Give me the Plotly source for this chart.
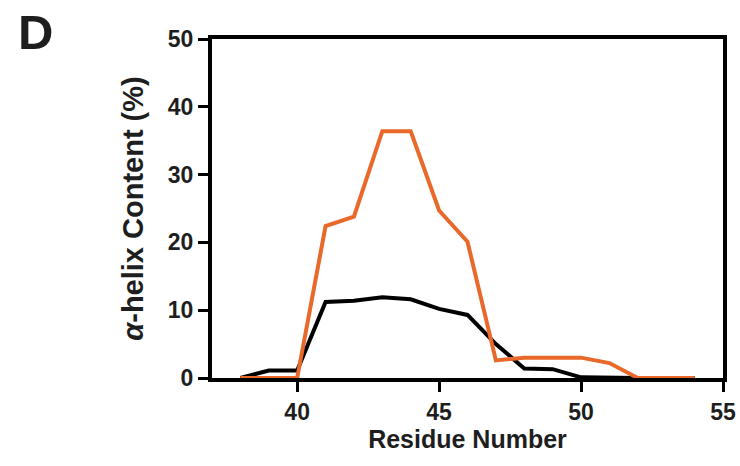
import plotly.graph_objects as go

residues = [38, 39, 40, 41, 42, 43, 44, 45, 46, 47, 48, 49, 50, 51, 52, 53, 54]
black_values = [0.0, 1.1, 1.1, 11.2, 11.4, 11.9, 11.6, 10.2, 9.3, 5.0, 1.4, 1.3, 0.1, 0.0, 0.0, 0.0, 0.0]
orange_values = [0.0, 0.0, 0.0, 22.4, 23.8, 36.4, 36.4, 24.7, 20.1, 2.6, 3.0, 3.0, 3.0, 2.2, 0.0, 0.0, 0.0]

x_ticks = [40, 45, 50, 55]
y_ticks = [0, 10, 20, 30, 40, 50]

FONT = "Liberation Sans"
TXT = "#1e1e1e"

fig = go.Figure()
fig.add_trace(go.Scatter(x=residues, y=black_values, mode="lines",
                         line=dict(color="#000000", width=4), showlegend=False))
fig.add_trace(go.Scatter(x=residues, y=orange_values, mode="lines",
                         line=dict(color="#E8692A", width=4), showlegend=False))

axis_common = dict(showgrid=False, zeroline=False, showline=True, linecolor="black",
                   linewidth=4, mirror=True, ticks="outside", ticklen=10, tickwidth=3,
                   tickcolor="black", automargin=False,
                   tickfont=dict(family=FONT, size=23, color=TXT, weight="bold"))

fig.update_xaxes(range=[37, 55], tickvals=x_ticks, ticktext=[str(v) for v in x_ticks],
                 title=dict(text="Residue Number", standoff=8,
                            font=dict(family=FONT, size=25, color=TXT, weight="bold")),
                 **axis_common)
fig.update_yaxes(range=[0, 50], tickvals=y_ticks, ticktext=[str(v) for v in y_ticks],
                 title=dict(text="<i>α</i>-helix Content (%)", standoff=17,
                            font=dict(family=FONT, size=29, color=TXT, weight="bold")),
                 **axis_common)

fig.add_annotation(text="D", xref="paper", yref="paper", x=-0.384, y=1.105,
                   xanchor="left", yanchor="top", showarrow=False,
                   font=dict(family=FONT, size=49, color=TXT, weight="bold"))

fig.update_layout(width=740, height=466, plot_bgcolor="white", paper_bgcolor="white",
                  margin=dict(l=212, r=17, t=39, b=88))

fig.write_html("out.html", config={"displayModeBar": False},
               post_script="document.body.style.margin='0px';")
